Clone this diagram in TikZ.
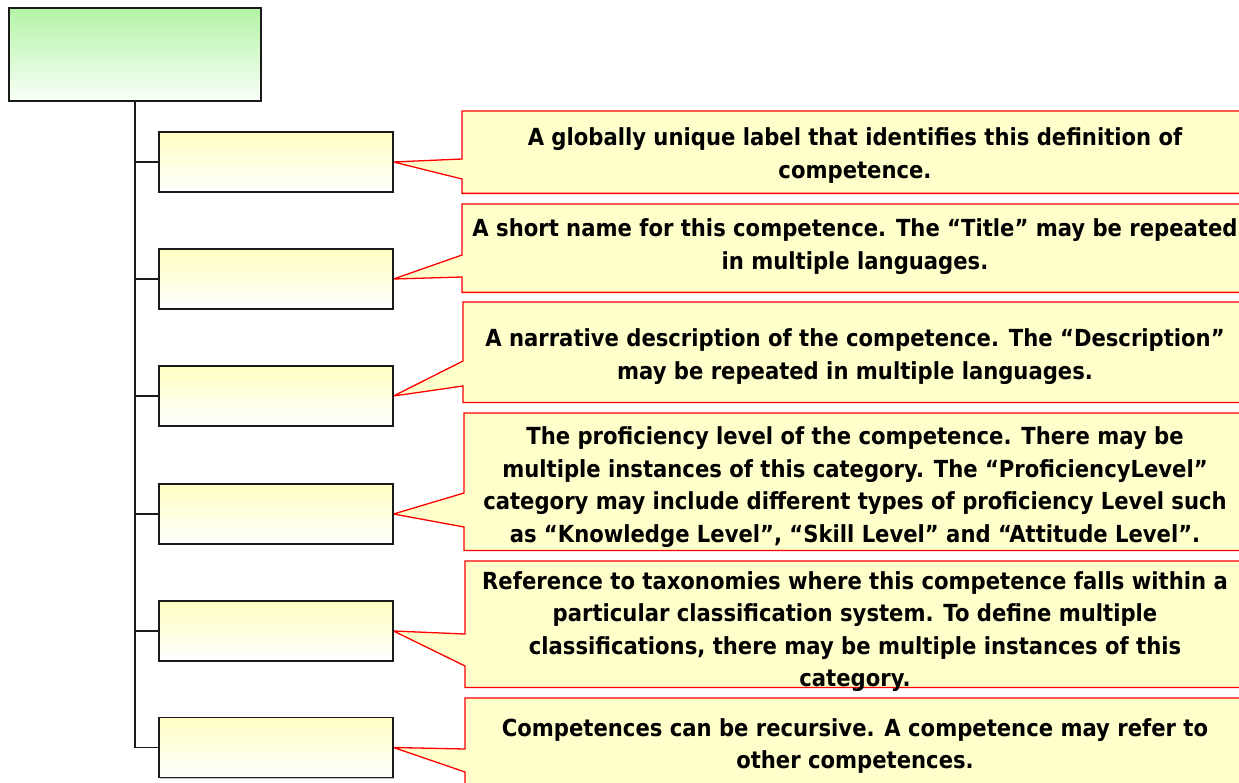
\documentclass[tikz,border=0pt]{standalone}
\usepackage{fontspec}
\setmainfont{DejaVu Sans}[FakeStretch=0.90]
\usetikzlibrary{backgrounds,shadows}
\definecolor{callfill}{HTML}{FFFFCC}
\definecolor{kidtop}{HTML}{FFFFC2}
\definecolor{roottop}{HTML}{B3F4A5}
\definecolor{rootbot}{HTML}{FAFFF8}
\definecolor{treeline}{HTML}{1A1A1A}
\definecolor{callred}{HTML}{FF0000}
\begin{document}
\begin{tikzpicture}[x=1pt,y=-1pt,
  kid/.style={draw=treeline, line width=1.1pt, top color=kidtop, bottom color=white,
    minimum width=234pt, minimum height=60pt, inner sep=0pt,
    drop shadow={shadow xshift=1pt, shadow yshift=-1pt, fill=gray!45, opacity=1}},
  rootbox/.style={draw=treeline, line width=1.1pt, top color=roottop, bottom color=rootbot,
    minimum width=252pt, minimum height=93pt, inner sep=0pt,
    drop shadow={shadow xshift=1pt, shadow yshift=-1pt, fill=gray!45, opacity=1}},
  callbox/.style={minimum width=785pt, inner sep=0pt, anchor=north west},
  callshape/.style={fill=callfill, draw=callred, line width=1.3pt, line join=miter},
  tree/.style={draw=treeline, line width=1.3pt},
  txt/.style={font=\bfseries\fontsize{23.5}{32.5}\selectfont, align=center, inner sep=0pt, text=black}]
\useasboundingbox (0,0) rectangle (1239,783);
\clip (0,0) rectangle (1239,783);

% root and children
\node[rootbox] (root) at (135,54.5) {};
\node[kid] (c1) at (276,162) {};
\node[kid] (c2) at (276,279) {};
\node[kid] (c3) at (276,396) {};
\node[kid] (c4) at (276,514) {};
\node[kid] (c5) at (276,631) {};
\node[kid] (c6) at (276,747.5) {};

\draw[tree] (root.south) |- (c6.west);
\foreach \i in {1,...,5} {\draw[tree] (root.south) |- (c\i.west);}

% callout boxes (geometry)
\node[callbox, minimum height=82pt]  (k1) at (462,111) {};
\node[callbox, minimum height=88pt]  (k2) at (462,204) {};
\node[callbox, minimum height=100pt] (k3) at (463,302) {};
\node[callbox, minimum height=137pt] (k4) at (464,413) {};
\node[callbox, minimum height=126pt] (k5) at (465,561) {};
\node[callbox, minimum height=102pt] (k6) at (465,698) {};

% callout texts
\node[txt] (t1) at (855,155.5) {A globally unique label that identifies this definition of\\competence.};
\node[txt] (t2) at (855,246.5) {A short name for this competence. The “Title” may be repeated\\in multiple languages.};
\node[txt] (t3) at (855,356.5) {A narrative description of the competence. The “Description”\\may be repeated in multiple languages.};
\node[txt] (t4) at (855,487) {The proficiency level of the competence. There may be\\multiple instances of this category. The “ProficiencyLevel”\\category may include different types of proficiency Level such\\as “Knowledge Level”, “Skill Level” and “Attitude Level”.};
\node[txt] (t5) at (855,631.5) {Reference to taxonomies where this competence falls within a\\particular classification system. To define multiple\\classifications, there may be multiple instances of this\\category.};
\node[txt] (t6) at (855,746) {Competences can be recursive. A competence may refer to\\other competences.};

\begin{scope}[on background layer]
\draw[callshape] (k1.north west) -- (k1.north east) -- (k1.south east) -- (k1.south west) -- (k1.west |- 0,179) -- (c1.east) -- (k1.west |- 0,159) -- cycle;
\draw[callshape] (k2.north west) -- (k2.north east) -- (k2.south east) -- (k2.south west) -- (k2.west |- 0,277) -- (c2.east) -- (k2.west |- 0,255) -- cycle;
\draw[callshape] (k3.north west) -- (k3.north east) -- (k3.south east) -- (k3.south west) -- (k3.west |- 0,386) -- (c3.east) -- (k3.west |- 0,361) -- cycle;
\draw[callshape] (k4.north west) -- (k4.north east) -- (k4.south east) -- (k4.south west) -- (k4.west |- 0,527) -- (c4.east) -- (k4.west |- 0,493) -- cycle;
\draw[callshape] (k5.north west) -- (k5.north east) -- (k5.south east) -- (k5.south west) -- (k5.west |- 0,666) -- (c5.east) -- (k5.west |- 0,634) -- cycle;
\draw[callshape] (k6.north west) -- (k6.north east) -- (k6.south east) -- (k6.south west) -- (k6.west |- 0,772) -- (c6.east) -- (k6.west |- 0,749) -- cycle;
\end{scope}
\end{tikzpicture}
\end{document}
